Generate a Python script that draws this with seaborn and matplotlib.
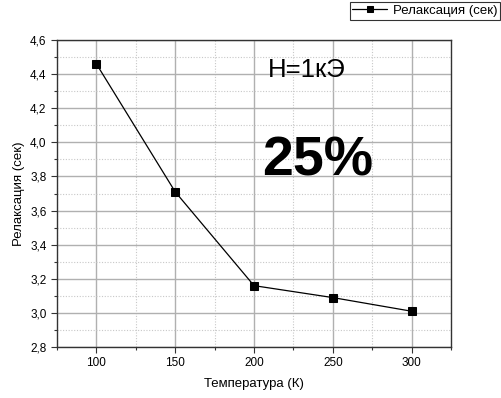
import matplotlib
matplotlib.use("Agg")
import matplotlib.pyplot as plt
import matplotlib.ticker as mticker
import seaborn as sns
import pandas as pd

temperature = [100, 150, 200, 250, 300]
relaxation = [4.46, 3.71, 3.16, 3.09, 3.01]
x_ticks = [100, 150, 200, 250, 300]
y_ticks = [2.8, 3.0, 3.2, 3.4, 3.6, 3.8, 4.0, 4.2, 4.4, 4.6]

sns.set_theme(style="white")
plt.rcParams['font.family'] = ['Liberation Sans', 'DejaVu Sans']
plt.rcParams['text.color'] = 'black'
plt.rcParams['axes.labelcolor'] = 'black'

df = pd.DataFrame({"T": temperature, "R": relaxation})

fig = plt.figure(figsize=(5.02, 3.98), dpi=100)
ax = fig.add_axes([0.1135, 0.128, 0.785, 0.7715])

sns.lineplot(data=df, x="T", y="R", ax=ax, color="black", lw=0.9,
             marker="s", markersize=6, markeredgecolor="black",
             label="Релаксация (сек)")

ax.set_xlim(75, 325)
ax.set_ylim(2.8, 4.6)
ax.set_xticks(x_ticks)
ax.set_yticks(y_ticks)
ax.xaxis.set_minor_locator(mticker.MultipleLocator(25))
ax.yaxis.set_minor_locator(mticker.MultipleLocator(0.1))
ax.yaxis.set_major_formatter(mticker.FuncFormatter(lambda v, p: f"{v:.1f}".replace(".", ",")))

ax.grid(which="major", color="#b0b0b0", lw=1.0, ls="-")
ax.grid(which="minor", color="#c8c8c8", lw=0.8, ls=(0, (1, 1.5)))
ax.set_axisbelow(True)

for s in ax.spines.values():
    s.set_color("#333333")
    s.set_linewidth(1.0)

ax.tick_params(which="major", direction="out", length=4, width=0.8,
               colors="#333333", labelsize=8.5, labelcolor="black",
               left=True, bottom=True)
ax.tick_params(which="minor", direction="out", length=2.5, width=0.8,
               colors="#333333", left=True, bottom=True)

ax.set_xlabel("Температура (К)", fontsize=9.5, labelpad=6)
ax.set_ylabel("Релаксация (сек)", fontsize=9.5, labelpad=4)

ax.text(209, 4.383, "H=1кЭ", fontsize=18.5, ha="left", va="baseline")
ax.text(205, 3.808, "25%", fontsize=40, fontweight="bold", ha="left", va="baseline")

ax.get_legend().remove()
handles, labels = ax.get_legend_handles_labels()
leg = fig.legend(handles, labels, loc="upper right", bbox_to_anchor=(0.997, 0.995),
                 fontsize=9.5, frameon=True, fancybox=False, borderpad=0.2,
                 handlelength=2.6, handletextpad=0.5, borderaxespad=0,
                 markerscale=0.7)
leg.get_frame().set_edgecolor("black")
leg.get_frame().set_linewidth(0.8)

fig.savefig("out.png", dpi=100)
